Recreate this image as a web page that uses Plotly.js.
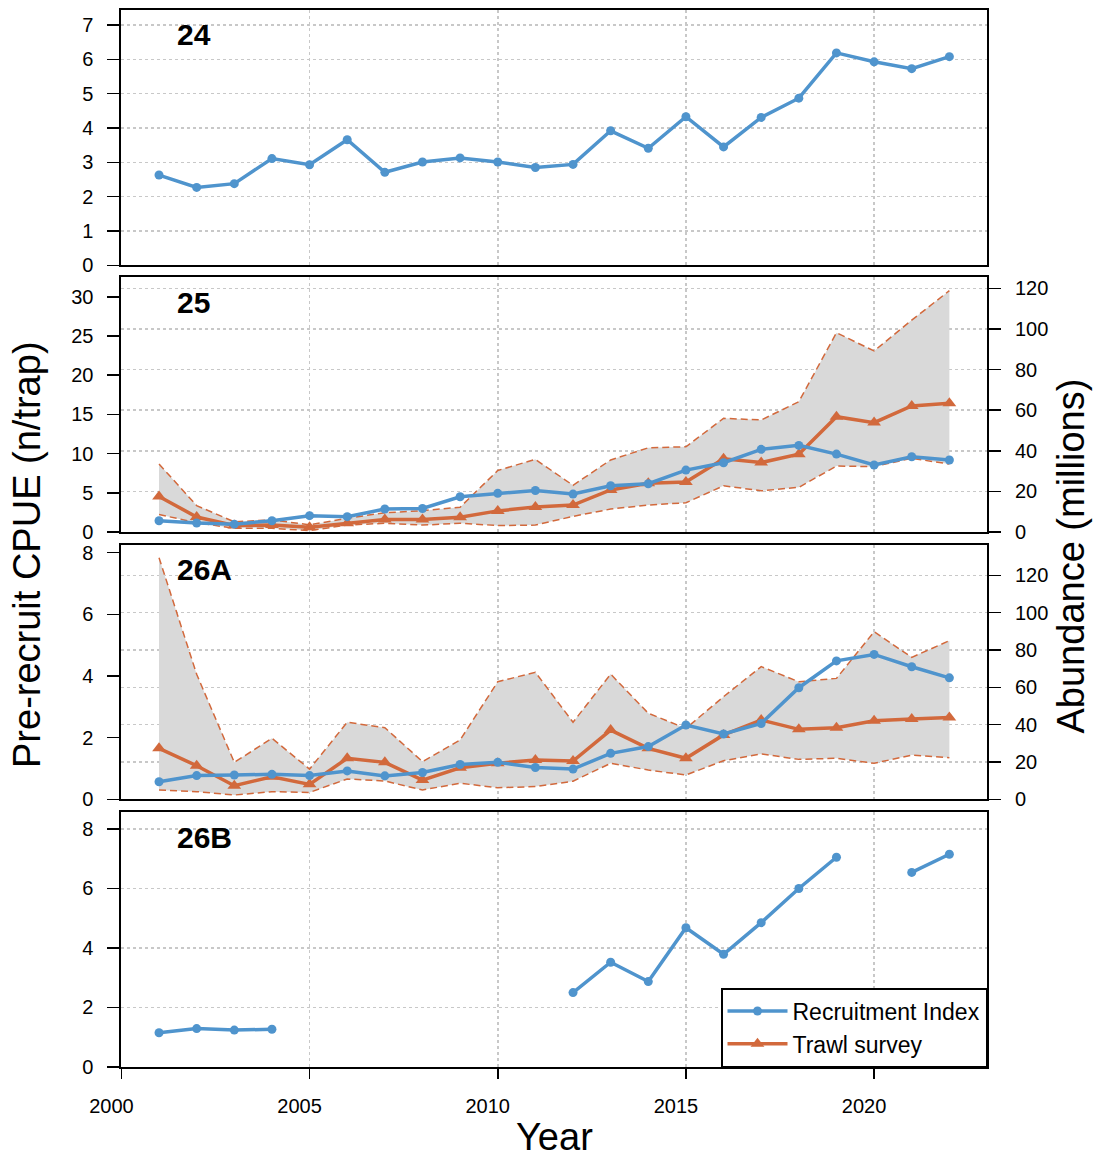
<!DOCTYPE html>
<html>
<head>
<meta charset="utf-8">
<script src="https://cdn.plot.ly/plotly-3.0.1.min.js"></script>
<style>html,body{margin:0;padding:0;background:#fff;}#chart{width:1098px;height:1157px;}</style>
</head>
<body>
<div id="chart"></div>
<script>
// ---------------- data ----------------
const years = [2001,2002,2003,2004,2005,2006,2007,2008,2009,2010,2011,2012,2013,2014,2015,2016,2017,2018,2019,2020,2021,2022];

// Area 24: recruitment index (CPUE)
const ri24 = [2.63,2.27,2.38,3.11,2.93,3.66,2.71,3.01,3.13,3.01,2.85,2.94,3.92,3.41,4.33,3.45,4.31,4.87,6.19,5.93,5.73,6.08];

// Area 25
const ri25 = [1.44,1.15,1.00,1.44,2.08,1.96,2.93,3.00,4.50,4.93,5.29,4.84,5.90,6.16,7.90,8.84,10.54,11.05,9.94,8.54,9.60,9.18];
const trawl25 = [17.5,7.4,3.2,3.5,2.3,4.3,6.2,6.2,7.3,10.4,12.3,13.3,20.7,24.0,24.6,36.1,34.2,38.3,56.8,53.9,62.1,63.4];
const upper25 = [33.5,13.0,5.0,6.0,3.5,6.8,9.5,10.5,12.2,30.3,35.8,23.0,35.5,41.5,42.0,56.0,55.2,64.2,98.2,89.2,104.4,118.9];
const lower25 = [8.6,4.6,1.8,1.8,0.7,3.4,4.3,3.4,4.3,3.2,3.4,7.7,11.3,13.3,14.4,22.8,20.3,22.0,32.5,32.2,36.3,33.5];

// Area 26A
const ri26A = [0.57,0.77,0.79,0.81,0.77,0.92,0.76,0.87,1.13,1.20,1.03,0.98,1.49,1.71,2.41,2.12,2.46,3.62,4.49,4.70,4.30,3.94];
const trawl26A = [27.3,18.0,7.3,12.1,8.0,22.0,19.8,10.3,16.9,19.3,21.1,20.5,37.1,27.3,22.0,34.5,42.5,37.5,38.4,42.1,43.0,43.9];
const upper26A = [129.5,67.0,19.8,32.7,16.2,41.3,38.4,20.2,31.8,63.0,68.1,41.3,67.1,46.1,38.0,55.0,71.1,63.0,64.8,89.8,76.1,85.0];
const lower26A = [5.0,4.1,2.3,4.1,3.7,10.9,9.8,5.0,8.6,6.2,6.8,9.7,19.3,15.7,13.0,20.7,24.3,21.4,22.0,19.3,23.7,22.3];

// Area 26B
const ri26B = [1.15,1.29,1.24,1.27,null,null,null,null,null,null,null,2.50,3.52,2.87,4.68,3.79,4.85,6.00,7.05,null,6.54,7.15];

const xTickVals = [2000,2005,2010,2015,2020];
const xTickText = ['2000','2005','2010','2015','2020'];
const panelNames = ['24','25','26A','26B'];

// ---------------- style ----------------
const W = 1098, H = 1157;
const BLUE = '#4F94CD', ORANGE = '#D2693C', FILL = '#D9D9D9', GRID = '#C8C8C8';
const FONT = 'Liberation Sans, Arial, sans-serif';
const xdom = [121.4/W, 987/W];
function ydom(top, bottom){ return [(H-bottom)/H, (H-top)/H]; }
const pTop = [10, 277.3, 545, 812.3], pBot = [265.3, 532, 799.3, 1067];

function xax(anchor, labels){
  return {
    domain: xdom, anchor: anchor, range: [2000, 2023],
    tickmode: 'array', tickvals: xTickVals,
    ticktext: xTickText.map(t => t + '\u2002\u2002'),
    showticklabels: labels, ticks: labels ? 'outside' : '', ticklen: 10, tickwidth: 1.5, tickcolor: '#000',
    ticklabelstandoff: 10,
    showgrid: true, gridcolor: GRID, griddash: 'dot', gridwidth: 1.5,
    showline: true, mirror: true, linecolor: '#000', linewidth: 2,
    zeroline: false, tickfont: {family: FONT, size: 20, color: '#000'}
  };
}
function yax(i, range, dtick, opts){
  return Object.assign({
    domain: ydom(pTop[i], pBot[i]), range: range, tick0: 0, dtick: dtick,
    ticks: 'outside', ticklen: 12, tickwidth: 1.5, tickcolor: '#000',
    ticklabelstandoff: 10,
    showgrid: true, gridcolor: GRID, griddash: 'dot', gridwidth: 1.5,
    showline: true, mirror: true, linecolor: '#000', linewidth: 2,
    zeroline: false, tickfont: {family: FONT, size: 20, color: '#000'}
  }, opts || {});
}

const riLine = {color: BLUE, width: 3.5};
const riMarker = {color: BLUE, size: 9, symbol: 'circle'};
const trLine = {color: ORANGE, width: 3.5};
const trMarker = {color: ORANGE, size: 12, symbol: 'triangle-up'};
const ciLine = {color: ORANGE, width: 1.5, dash: '7px,4px'};

const traces = [
  // Panel 24
  {x: years, y: ri24, xaxis: 'x', yaxis: 'y', mode: 'lines+markers', line: riLine, marker: riMarker,
   name: 'Recruitment Index', showlegend: true},
  // Panel 25 (right axis base: y2; left overlay: y5)
  {x: years, y: upper25, xaxis: 'x2', yaxis: 'y2', mode: 'lines', line: ciLine, showlegend: false},
  {x: years, y: lower25, xaxis: 'x2', yaxis: 'y2', mode: 'lines', line: ciLine, fill: 'tonexty', fillcolor: FILL, showlegend: false},
  {x: years, y: trawl25, xaxis: 'x2', yaxis: 'y2', mode: 'lines+markers', line: trLine, marker: trMarker,
   name: 'Trawl survey', showlegend: true},
  {x: years, y: ri25, xaxis: 'x2', yaxis: 'y5', mode: 'lines+markers', line: riLine, marker: riMarker, showlegend: false},
  // Panel 26A (right axis base: y3; left overlay: y6)
  {x: years, y: upper26A, xaxis: 'x3', yaxis: 'y3', mode: 'lines', line: ciLine, showlegend: false},
  {x: years, y: lower26A, xaxis: 'x3', yaxis: 'y3', mode: 'lines', line: ciLine, fill: 'tonexty', fillcolor: FILL, showlegend: false},
  {x: years, y: trawl26A, xaxis: 'x3', yaxis: 'y3', mode: 'lines+markers', line: trLine, marker: trMarker, showlegend: false},
  {x: years, y: ri26A, xaxis: 'x3', yaxis: 'y6', mode: 'lines+markers', line: riLine, marker: riMarker, showlegend: false},
  // Panel 26B
  {x: years, y: ri26B, xaxis: 'x4', yaxis: 'y4', mode: 'lines+markers', line: riLine, marker: riMarker,
   connectgaps: false, showlegend: false}
];

const ann = [];
const labelY = [34.5, 302.7, 569.3, 837.3];
panelNames.forEach((n, i) => ann.push({
  text: '<b>' + n + '</b>', xref: 'paper', yref: 'paper', x: 175/W, y: (H-labelY[i])/H,
  xanchor: 'left', yanchor: 'middle', showarrow: false, font: {family: FONT, size: 30, color: '#000'}
}));
ann.push({text: 'Pre-recruit CPUE (n/trap)', xref: 'paper', yref: 'paper', x: 27/W, y: (H-555)/H,
  xanchor: 'center', yanchor: 'middle', textangle: -90, showarrow: false, font: {family: FONT, size: 38, color: '#000'}});
ann.push({text: 'Abundance (millions)', xref: 'paper', yref: 'paper', x: 1070/W, y: (H-556.5)/H,
  xanchor: 'center', yanchor: 'middle', textangle: -90, showarrow: false, font: {family: FONT, size: 38, color: '#000'}});
ann.push({text: 'Year', xref: 'paper', yref: 'paper', x: 554/W, y: (H-1137)/H,
  xanchor: 'center', yanchor: 'middle', showarrow: false, font: {family: FONT, size: 38, color: '#000'}});

const layout = {
  width: W, height: H, margin: {l: 0, r: 0, t: 0, b: 0},
  paper_bgcolor: '#fff', plot_bgcolor: '#fff', hovermode: false,
  font: {family: FONT, color: '#000'},
  xaxis: xax('y', false),
  xaxis2: xax('y2', false),
  xaxis3: xax('y3', false),
  xaxis4: xax('y4', true),
  yaxis: yax(0, [0, 7.44], 1),
  yaxis2: yax(1, [0, 125.5], 20, {side: 'right', anchor: 'x2'}),
  yaxis5: yax(1, [0, 32.49], 5, {side: 'left', anchor: 'x2', overlaying: 'y2', showgrid: false}),
  yaxis3: yax(2, [0, 136.3], 20, {side: 'right', anchor: 'x3', tickvals: [0,20,40,60,80,100,120], tickmode: 'array'}),
  yaxis6: yax(2, [0, 8.25], 2, {side: 'left', anchor: 'x3', overlaying: 'y3', showgrid: false}),
  yaxis4: yax(3, [0, 8.56], 2),
  showlegend: true,
  legend: {x: 987/W, y: (H-1067)/H, xanchor: 'right', yanchor: 'bottom',
    bgcolor: '#fff', bordercolor: '#000', borderwidth: 1.5, itemwidth: 60,
    font: {family: FONT, size: 23, color: '#000'}, traceorder: 'normal'},
  annotations: ann
};
layout.yaxis.anchor = 'x';
layout.yaxis4.anchor = 'x4';

Plotly.newPlot('chart', traces, layout, {staticPlot: true, displayModeBar: false});
</script>
</body>
</html>
